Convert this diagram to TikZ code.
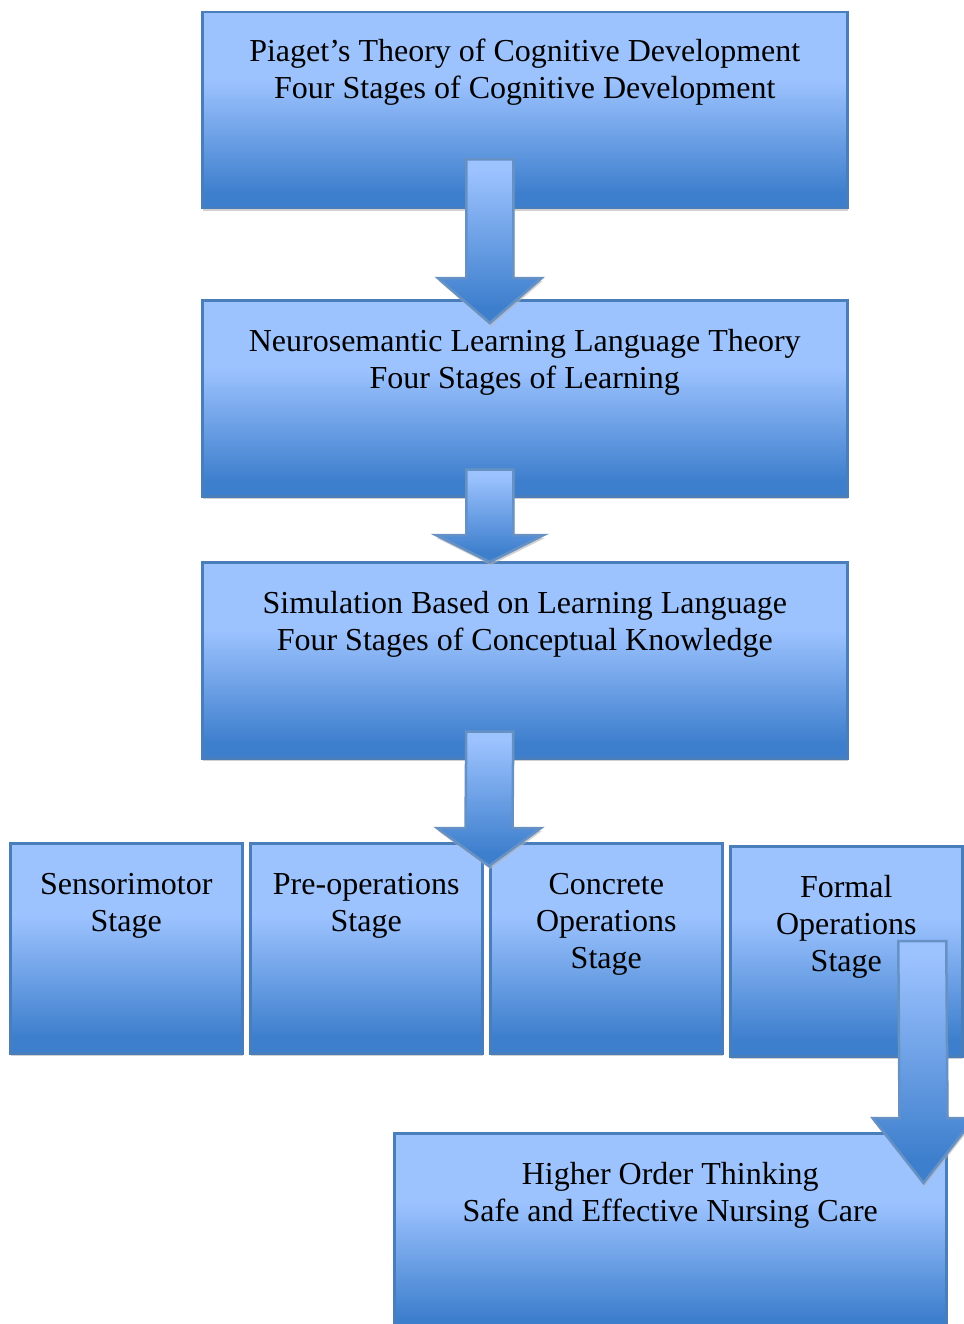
\documentclass[tikz,border=0pt]{standalone}
\usepackage{fontspec}
\setmainfont{Liberation Serif}
\usetikzlibrary{calc,shadows}
\definecolor{lt}{RGB}{157,195,255}
\definecolor{dk}{RGB}{62,127,205}
\definecolor{bd}{RGB}{74,126,187}
\pgfdeclareverticalshading{boxshade}{100bp}{color(0bp)=(dk); color(29bp)=(dk); color(58bp)=(lt); color(100bp)=(lt)}
\pgfdeclareverticalshading{arrshade}{100bp}{color(0bp)=(dk); color(30bp)=(dk); color(72bp)=(lt); color(100bp)=(lt)}
\tikzset{
  box/.style={rectangle, draw=bd, line width=2.5pt, shading=boxshade, inner sep=0pt, anchor=north west,
    drop shadow={shadow xshift=0.5pt, shadow yshift=-3pt, fill=black!18, opacity=1}},
  lbl/.style={align=center, font=\fontsize{32}{37}\selectfont, inner sep=0pt, anchor=base},
  barrow/.style={draw=bd!85, line width=2.5pt, shading=arrshade, line join=miter,
    drop shadow={shadow xshift=1pt, shadow yshift=-3pt, fill=black!30, opacity=0.6}}
}
\newcommand\blockarrow[5]{%
  \draw[barrow] ($(#1)+(-#4,0)$) -- ($(#1)+(#4,0)$) -- ($(#2)+(#4,-#3)$) -- ($(#2)+(#5,-#3)$)
    -- (#2) -- ($(#2)+(-#5,-#3)$) -- ($(#2)+(-#4,-#3)$) -- cycle;}
\begin{document}
\begin{tikzpicture}[x=1pt,y=-1pt]
\useasboundingbox (0,0) rectangle (963,1324);
% boxes
\node (b1) [box, minimum width=645pt, minimum height=196pt] at (201,11) {};
\node (b2) [box, minimum width=645pt, minimum height=196pt] at (201,299) {};
\node (b3) [box, minimum width=645pt, minimum height=196pt] at (201,561) {};
\node (s1) [box, minimum width=232pt, minimum height=210pt] at (9,842) {};
\node (s2) [box, minimum width=232pt, minimum height=210pt] at (249,842) {};
\node (s3) [box, minimum width=232pt, minimum height=210pt] at (489,842) {};
\node (s4) [box, minimum width=232pt, minimum height=210pt] at (729,845) {};
\node (b5) [box, minimum width=552pt, minimum height=200pt] at (393,1132) {};
% texts (base anchor = baseline of last line)
\node (t1) [lbl] at ($(b1.north)+(0,88)$) {Piaget’s Theory of Cognitive Development\\Four Stages of Cognitive Development};
\node (t2) [lbl] at ($(b2.north)+(0,89)$) {Neurosemantic Learning Language Theory\\Four Stages of Learning};
\node (t3) [lbl] at ($(b3.north)+(0,89)$) {Simulation Based on Learning Language\\Four Stages of Conceptual Knowledge};
\node (u1) [lbl] at ($(s1.north)+(0,89)$) {Sensorimotor\\Stage};
\node (u2) [lbl] at ($(s2.north)+(0,89)$) {Pre-operations\\Stage};
\node (u3) [lbl] at ($(s3.north)+(0,126)$) {Concrete\\Operations\\Stage};
\node (u4) [lbl] at ($(s4.north)+(0,126)$) {Formal\\Operations\\Stage};
\node (t5) [lbl] at ($(b5.north)+(0,89)$) {Higher Order Thinking\\Safe and Effective Nursing Care};
% arrows
\coordinate (a1s) at ($(b1.south)+(-35,-50)$);
\coordinate (a1e) at ($(b2.north)+(-35,24)$);
\coordinate (a2s) at ($(b2.south)+(-35,-28)$);
\coordinate (a2e) at ($(b3.north)+(-35,1)$);
\coordinate (a3s) at ($(b3.south)+(-35,-28)$);
\coordinate (a3e) at ($(s3.north west)+(0,24)$);
\coordinate (a4s) at ($(s4.north)+(76,96)$);
\coordinate (a4e) at ($(b5.north east)+(-24,51)$);
\blockarrow{a1s}{a1e}{45}{23.5}{52}
\blockarrow{a2s}{a2e}{27}{23.5}{54}
\blockarrow{a3s}{a3e}{38}{23.5}{52}
\blockarrow{a4s}{a4e}{65}{24}{51}
\end{tikzpicture}
\end{document}
